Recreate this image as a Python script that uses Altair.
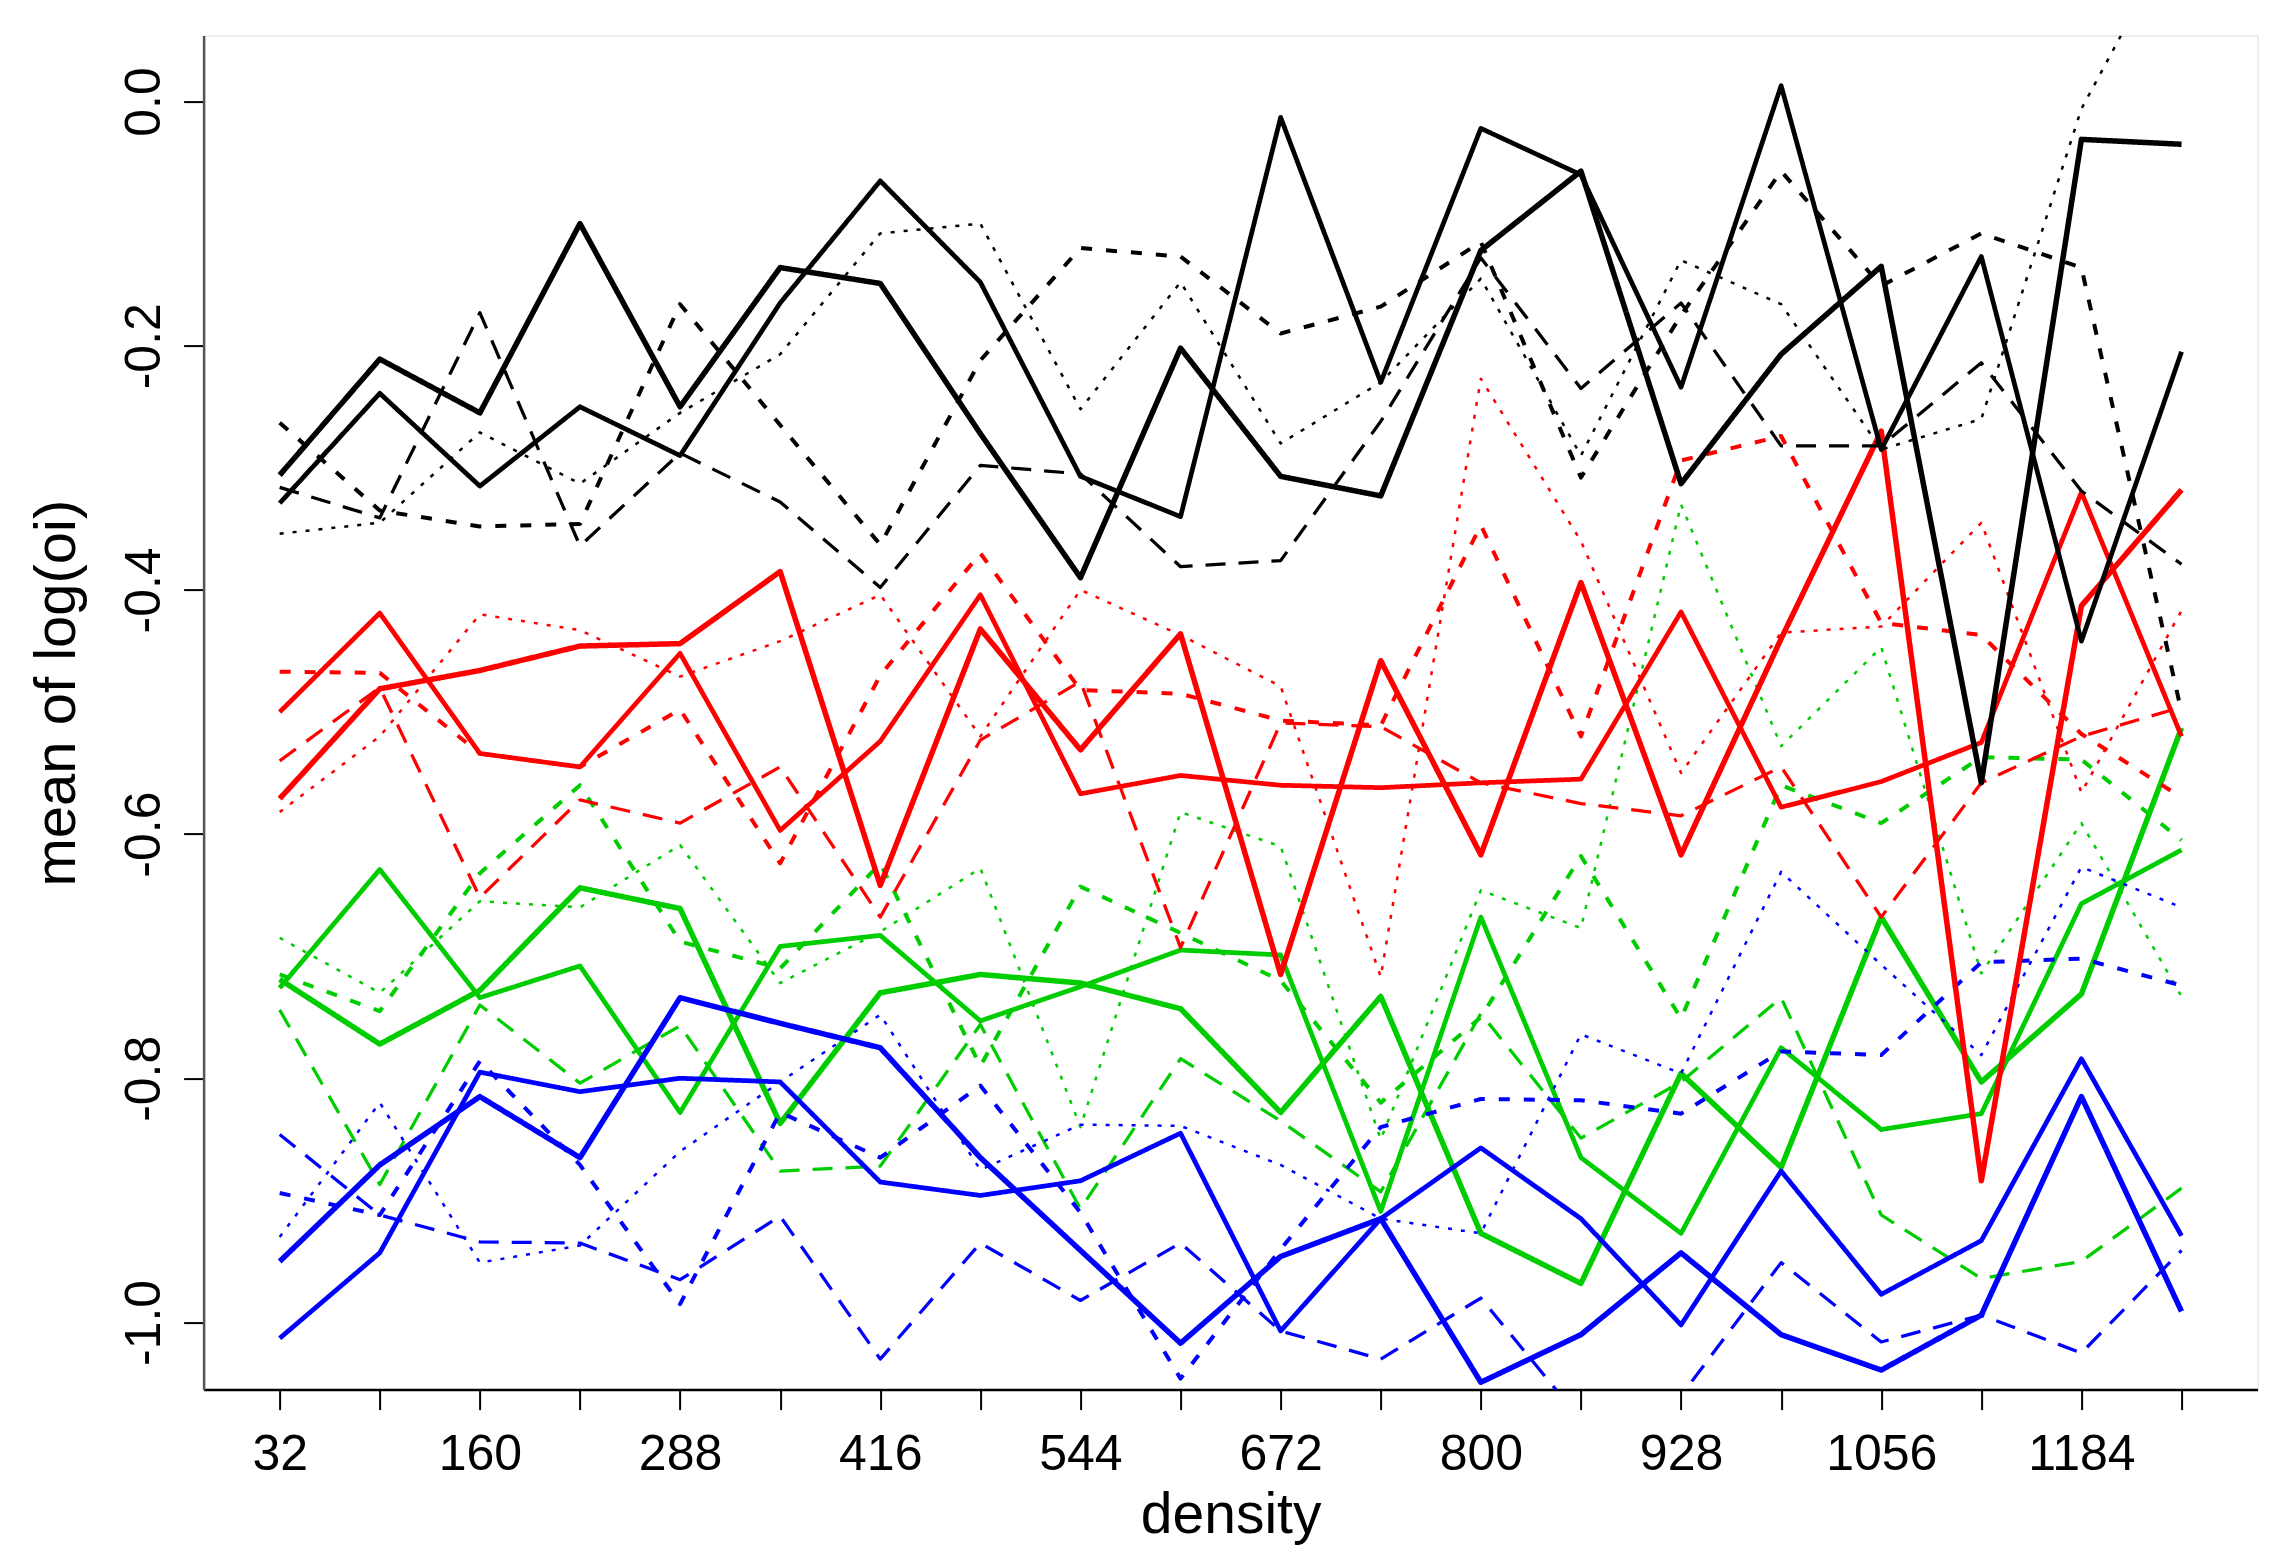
import altair as alt
import pandas as pd

density = [32, 96, 160, 224, 288, 352, 416, 480, 544, 608, 672, 736, 800, 864, 928, 992, 1056, 1120, 1184, 1248]

black_thick = [-0.306, -0.211, -0.255, -0.100, -0.250, -0.136, -0.149, -0.272, -0.390, -0.202, -0.307, -0.323, -0.122, -0.057, -0.313, -0.207, -0.135, -0.558, -0.031, -0.035]
black_thin = [-0.329, -0.239, -0.315, -0.250, -0.290, -0.165, -0.065, -0.148, -0.307, -0.340, -0.013, -0.230, -0.022, -0.060, -0.234, 0.013, -0.285, -0.127, -0.442, -0.205]
black_heavy = [-0.263, -0.335, -0.348, -0.346, -0.166, -0.265, -0.363, -0.212, -0.120, -0.127, -0.190, -0.168, -0.115, -0.308, -0.175, -0.057, -0.151, -0.108, -0.136, -0.500]
black_dash = [-0.316, -0.341, -0.173, -0.364, -0.288, -0.328, -0.398, -0.298, -0.305, -0.381, -0.376, -0.262, -0.128, -0.235, -0.165, -0.282, -0.282, -0.214, -0.319, -0.379]
black_dot = [-0.354, -0.345, -0.271, -0.313, -0.255, -0.207, -0.108, -0.100, -0.252, -0.148, -0.280, -0.230, -0.145, -0.290, -0.130, -0.166, -0.285, -0.260, -0.006, 0.146]

red_thick = [-0.571, -0.481, -0.466, -0.446, -0.444, -0.385, -0.642, -0.432, -0.531, -0.436, -0.715, -0.458, -0.617, -0.394, -0.617, -0.440, -0.270, -0.884, -0.413, -0.318]
red_thin = [-0.500, -0.419, -0.534, -0.545, -0.452, -0.597, -0.524, -0.404, -0.567, -0.552, -0.560, -0.562, -0.558, -0.555, -0.418, -0.578, -0.557, -0.525, -0.320, -0.520]
red_heavy = [-0.467, -0.468, -0.534, -0.545, -0.498, -0.624, -0.470, -0.370, -0.482, -0.485, -0.507, -0.511, -0.347, -0.520, -0.294, -0.274, -0.427, -0.437, -0.518, -0.570]
red_dash = [-0.540, -0.480, -0.652, -0.572, -0.591, -0.545, -0.668, -0.523, -0.475, -0.693, -0.509, -0.512, -0.558, -0.575, -0.585, -0.545, -0.668, -0.558, -0.520, -0.496]
red_dot = [-0.582, -0.520, -0.420, -0.433, -0.471, -0.442, -0.404, -0.520, -0.400, -0.437, -0.479, -0.717, -0.227, -0.360, -0.550, -0.435, -0.430, -0.345, -0.566, -0.417]

green_thick = [-0.719, -0.772, -0.728, -0.644, -0.661, -0.837, -0.730, -0.715, -0.722, -0.743, -0.828, -0.733, -0.927, -0.968, -0.796, -0.873, -0.668, -0.803, -0.731, -0.513]
green_thin = [-0.726, -0.629, -0.734, -0.708, -0.828, -0.692, -0.683, -0.753, -0.725, -0.695, -0.699, -0.909, -0.668, -0.865, -0.927, -0.775, -0.842, -0.829, -0.657, -0.613]
green_heavy = [-0.715, -0.745, -0.632, -0.560, -0.688, -0.710, -0.624, -0.790, -0.643, -0.681, -0.720, -0.820, -0.750, -0.618, -0.751, -0.560, -0.591, -0.537, -0.539, -0.605]
green_dash = [-0.744, -0.887, -0.740, -0.804, -0.757, -0.876, -0.872, -0.756, -0.907, -0.784, -0.835, -0.893, -0.747, -0.849, -0.803, -0.734, -0.912, -0.964, -0.950, -0.890]
green_dot = [-0.685, -0.730, -0.655, -0.660, -0.609, -0.722, -0.680, -0.628, -0.840, -0.582, -0.610, -0.850, -0.646, -0.677, -0.330, -0.528, -0.447, -0.714, -0.591, -0.733]

blue_thick = [-0.950, -0.871, -0.815, -0.865, -0.734, -0.755, -0.775, -0.865, -0.941, -1.017, -0.946, -0.915, -1.049, -1.010, -0.943, -1.010, -1.039, -0.994, -0.815, -0.991]
blue_thin = [-1.013, -0.943, -0.795, -0.811, -0.800, -0.803, -0.885, -0.896, -0.884, -0.845, -1.007, -0.915, -0.857, -0.915, -1.002, -0.876, -0.977, -0.933, -0.784, -0.929]
blue_heavy = [-0.894, -0.912, -0.786, -0.871, -0.985, -0.828, -0.865, -0.806, -0.910, -1.046, -0.940, -0.840, -0.817, -0.818, -0.829, -0.778, -0.781, -0.705, -0.702, -0.724]
blue_dash = [-0.846, -0.912, -0.934, -0.935, -0.965, -0.913, -1.030, -0.935, -0.982, -0.935, -1.007, -1.030, -0.980, -1.080, -1.060, -0.951, -1.016, -0.994, -1.025, -0.941]
blue_dot = [-0.930, -0.820, -0.951, -0.937, -0.860, -0.803, -0.748, -0.875, -0.838, -0.839, -0.871, -0.915, -0.927, -0.764, -0.796, -0.631, -0.707, -0.781, -0.627, -0.660]

x_ticks = density
y_ticks = [0.0, -0.2, -0.4, -0.6, -0.8, -1.0]

colours = ["green", "blue", "red", "black"]
colour_values = ["#00cd00", "#0000ff", "#ff0000", "#000000"]
styles = ["thick", "thin", "heavy", "dash", "dot"]
style_widths = [5.5, 2.5, 5.0, 2.5, 3.0]
style_dashes = [[1, 0], [1, 0], [11, 14], [20, 13], [4, 9]]

series = [
    ("green", "dash", green_dash), ("green", "dot", green_dot), ("green", "heavy", green_heavy),
    ("green", "thin", green_thin), ("green", "thick", green_thick),
    ("blue", "dash", blue_dash), ("blue", "dot", blue_dot), ("blue", "heavy", blue_heavy),
    ("blue", "thin", blue_thin), ("blue", "thick", blue_thick),
    ("red", "dash", red_dash), ("red", "dot", red_dot), ("red", "heavy", red_heavy),
    ("red", "thin", red_thin), ("red", "thick", red_thick),
    ("black", "dash", black_dash), ("black", "dot", black_dot), ("black", "heavy", black_heavy),
    ("black", "thin", black_thin), ("black", "thick", black_thick),
]

rows = []
for k, (col, sty, vals) in enumerate(series):
    for d, v in zip(density, vals):
        rows.append({"density": d, "value": v, "colour": col, "style": sty,
                     "series": f"{k:02d}-{col}-{sty}"})
df = pd.DataFrame(rows)

FONT = "Liberation Sans"

x_axis = alt.Axis(
    values=x_ticks,
    labelExpr="(datum.value - 32) % 128 == 0 ? format(datum.value, 'd') : ''",
    title="density",
    titleY=143, titleBaseline="alphabetic", titleFontWeight="normal",
    titleFont=FONT, titleFontSize=57, titleColor="#000000",
    labelBaseline="alphabetic", labelPadding=60, labelFlush=False,
    labelFont=FONT, labelFontSize=50, labelColor="#000000",
    tickSize=20, tickWidth=2, tickColor="#000000",
    domainColor="#000000", domainWidth=2.5,
    grid=False,
)
y_axis = alt.Axis(
    values=y_ticks,
    labelExpr="datum.value < -0.001 ? '-' + format(-datum.value, '.1f') : format(abs(datum.value), '.1f')",
    title="mean of log(oi)",
    labelAngle=270, labelAlign="center", labelBaseline="middle", labelPadding=39, labelFlush=False,
    labelFont=FONT, labelFontSize=50, labelColor="#000000",
    titleAngle=270, titleX=-146, titleY=657, titleBaseline="middle", titleAlign="center",
    titleFontWeight="normal", titleFont=FONT, titleFontSize=58, titleColor="#000000",
    tickSize=20, tickWidth=2, tickColor="#000000",
    domainColor="#555555", domainWidth=2.5,
    grid=False,
)

chart = alt.Chart(df).mark_line(clip=True, strokeCap="butt", strokeJoin="round").encode(
    x=alt.X("density:Q", scale=alt.Scale(domain=[-16.64, 1296.64], nice=False, zero=False), axis=x_axis),
    y=alt.Y("value:Q", scale=alt.Scale(domain=[-1.055, 0.054], nice=False, zero=False), axis=y_axis),
    color=alt.Color("colour:N", scale=alt.Scale(domain=colours, range=colour_values), legend=None),
    strokeDash=alt.StrokeDash("style:N", scale=alt.Scale(domain=styles, range=style_dashes), legend=None),
    strokeWidth=alt.StrokeWidth("style:N", scale=alt.Scale(domain=styles, range=style_widths), legend=None),
    detail="series:N",
    order="density:Q",
).properties(
    width=2054, height=1354,
    autosize=alt.AutoSizeParams(type="none"),
    padding={"left": 195.6, "top": 27.6, "right": 8.4, "bottom": 158.3},
).configure_view(
    stroke="#888888", strokeWidth=3
).configure_axis(
    labelFont=FONT, titleFont=FONT, labelColor="#000000", titleColor="#000000",
    titleFontWeight="normal",
).configure(background="#ffffff")

chart.save("out.html", embed_options={"renderer": "svg", "actions": False})
